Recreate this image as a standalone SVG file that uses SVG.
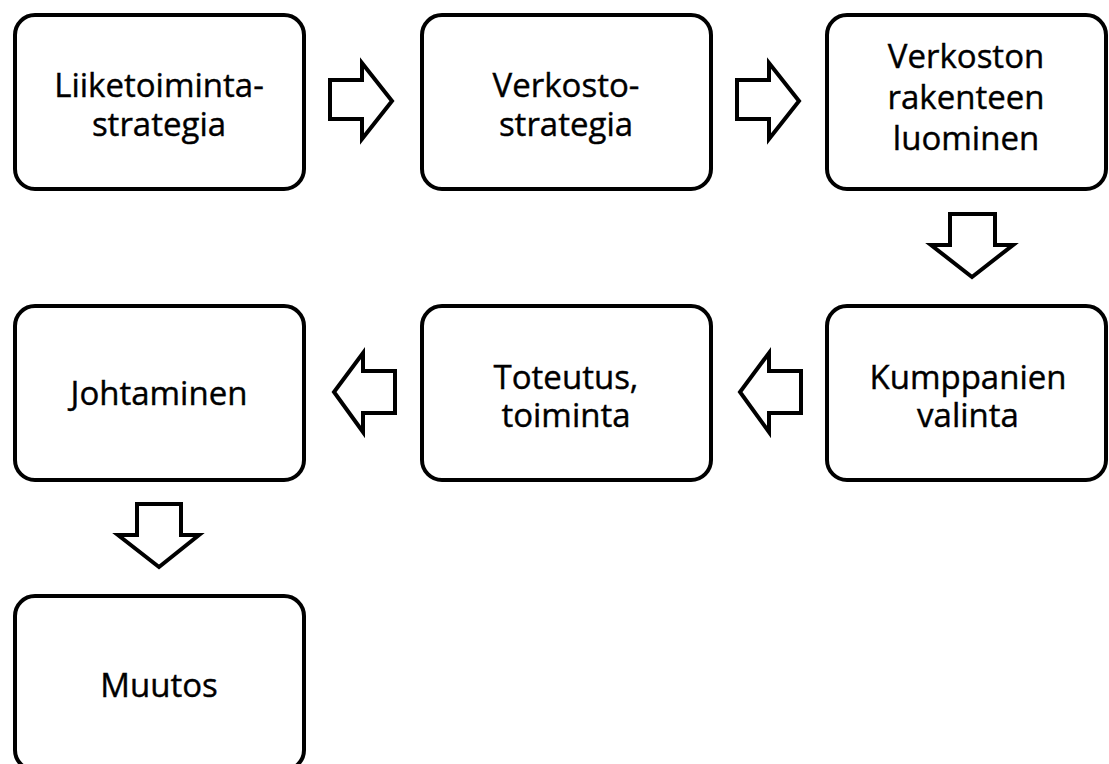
<svg xmlns="http://www.w3.org/2000/svg" width="1109" height="764" viewBox="0 0 1109 764">
<style>
.box{fill:#fff;stroke:#000;stroke-width:4}
.arr{fill:#fff;stroke:#000;stroke-width:4;stroke-linejoin:miter}
text{font-family:"Open Sans",Lato,sans-serif;font-size:33px;fill:#000;text-anchor:middle;stroke:#000;stroke-width:0.4}
</style>
<rect width="1109" height="764" fill="#fff"/>
<g id="n1"><rect class="box" x="15" y="15" width="289" height="174" rx="20"/><text x="159" y="97">Liiketoiminta-</text><text x="159" y="136">strategia</text></g>
<g id="n2"><rect class="box" x="422" y="15" width="289" height="174" rx="20"/><text x="566" y="97">Verkosto-</text><text x="566" y="136">strategia</text></g>
<g id="n3"><rect class="box" x="827" y="15" width="279" height="174" rx="20"/><text x="966" y="68">Verkoston</text><text x="966" y="109">rakenteen</text><text x="966" y="150">luominen</text></g>
<g id="n4"><rect class="box" x="827" y="306" width="279" height="174" rx="20"/><text x="968" y="389">Kumppanien</text><text x="968" y="427">valinta</text></g>
<g id="n5"><rect class="box" x="422" y="306" width="289" height="174" rx="20"/><text x="566" y="389">Toteutus,</text><text x="566" y="427">toiminta</text></g>
<g id="n6"><rect class="box" x="15" y="306" width="289" height="174" rx="20"/><text x="159" y="405">Johtaminen</text></g>
<g id="n7"><rect class="box" x="15" y="596" width="289" height="174" rx="20"/><text x="159" y="697">Muutos</text></g>
<g id="connectors">
<polygon class="arr" points="330,80 362,80 362,63 392,101 362,139 362,119 330,119"/>
<polygon class="arr" points="737,80 769,80 769,63 799,101 769,139 769,119 737,119"/>
<polygon class="arr" points="950,214 995,214 995,245 1013,245 972,277 931,245 950,245"/>
<polygon class="arr" points="395,371 363,371 363,353 334,392 363,432 363,413 395,413"/>
<polygon class="arr" points="801,371 769,371 769,353 740,392 769,432 769,413 801,413"/>
<polygon class="arr" points="137,504 181,504 181,535 199,535 159,567 118,535 137,535"/>
</g>
</svg>
